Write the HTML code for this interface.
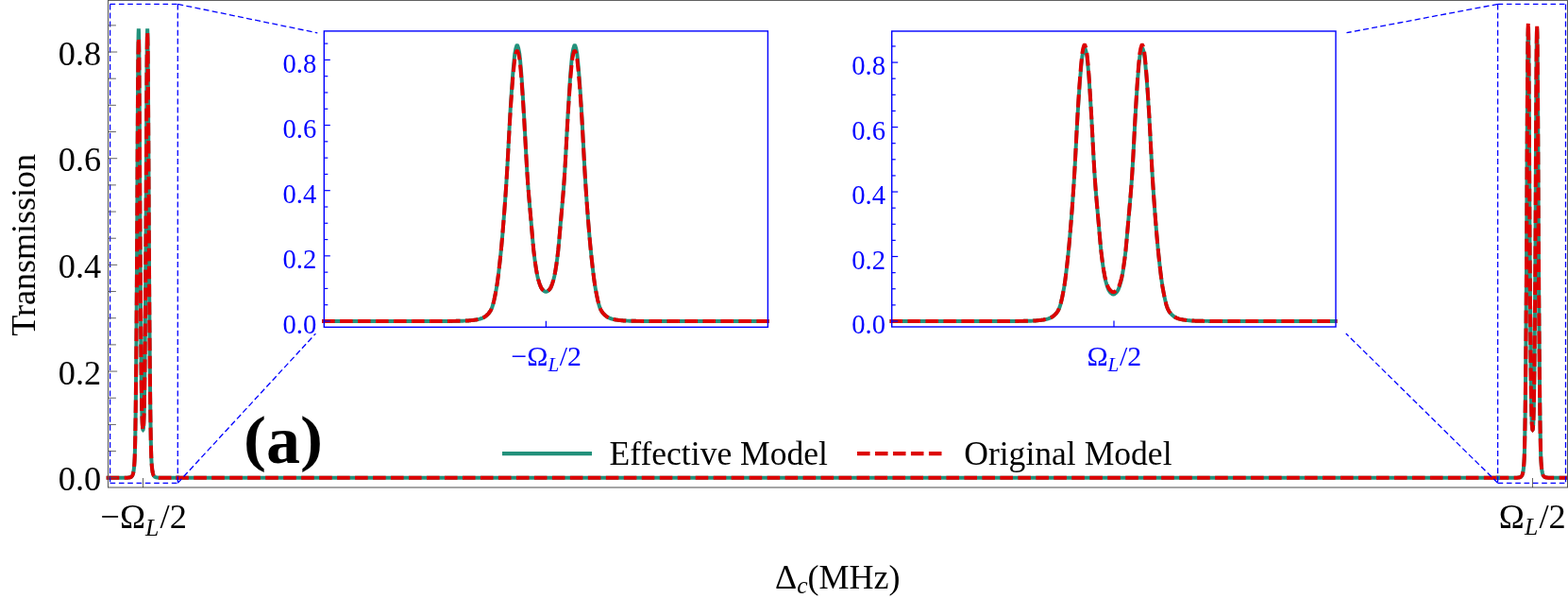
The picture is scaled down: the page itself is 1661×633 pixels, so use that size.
<!DOCTYPE html>
<html><head><meta charset="utf-8"><title>Transmission</title>
<style>
html,body{margin:0;padding:0;background:#fff;}
body{width:1661px;height:633px;overflow:hidden;}
svg{display:block;}
text{font-family:"Liberation Serif",serif;}
</style></head><body>
<svg width="1661" height="633" viewBox="0 0 1661 633">
<rect width="1661" height="633" fill="#fff"/>

<g fill="none" stroke-linejoin="miter">
<path d="M112.70,505.75 L133.12,505.75 L133.35,505.75 L133.57,505.75 L133.80,505.74 L134.03,505.73 L134.26,505.72 L134.49,505.71 L134.72,505.70 L134.95,505.69 L135.18,505.67 L135.41,505.65 L135.63,505.63 L135.86,505.61 L136.09,505.59 L136.32,505.57 L136.55,505.55 L136.78,505.52 L137.01,505.48 L137.24,505.44 L137.46,505.39 L137.69,505.34 L137.92,505.28 L138.15,505.21 L138.38,505.13 L138.61,505.04 L138.84,504.91 L139.07,504.73 L139.30,504.50 L139.52,504.24 L139.75,503.94 L139.98,503.61 L140.21,503.24 L140.44,502.78 L140.67,502.21 L140.90,501.53 L141.13,500.72 L141.36,499.77 L141.58,498.41 L141.81,496.62 L142.04,494.48 L142.27,491.90 L142.50,488.49 L142.73,483.92 L142.96,476.62 L143.19,466.41 L143.41,454.15 L143.64,439.64 L143.87,420.78 L144.10,399.00 L144.33,374.89 L144.56,346.72 L144.79,315.85 L145.02,281.63 L145.25,242.69 L145.47,196.64 L145.70,150.83 L145.93,112.27 L146.16,79.04 L146.39,52.21 L146.62,36.41 L146.85,30.39 L147.08,36.41 L147.30,52.07 L147.53,79.62 L147.76,116.29 L147.99,157.11 L148.22,203.10 L148.45,246.86 L148.68,281.32 L148.91,310.00 L149.14,337.69 L149.36,366.23 L149.59,390.82 L149.82,408.95 L150.05,423.86 L150.28,434.44 L150.51,442.24 L150.74,448.10 L150.97,451.40 L151.19,453.67 L151.42,454.95 L151.50,455.04 L151.58,454.95 L151.81,453.67 L152.03,451.40 L152.26,448.10 L152.49,442.24 L152.72,434.44 L152.95,423.86 L153.18,408.95 L153.41,390.82 L153.64,366.23 L153.86,337.69 L154.09,310.00 L154.32,281.32 L154.55,246.86 L154.78,203.10 L155.01,157.11 L155.24,116.29 L155.47,79.62 L155.70,52.07 L155.92,36.41 L156.15,30.39 L156.38,36.41 L156.61,52.21 L156.84,79.04 L157.07,112.27 L157.30,150.83 L157.53,196.64 L157.75,242.69 L157.98,281.63 L158.21,315.85 L158.44,346.72 L158.67,374.89 L158.90,399.00 L159.13,420.78 L159.36,439.64 L159.59,454.15 L159.81,466.41 L160.04,476.62 L160.27,483.92 L160.50,488.49 L160.73,491.90 L160.96,494.48 L161.19,496.62 L161.42,498.41 L161.64,499.77 L161.87,500.72 L162.10,501.53 L162.33,502.21 L162.56,502.78 L162.79,503.24 L163.02,503.61 L163.25,503.94 L163.48,504.24 L163.70,504.50 L163.93,504.73 L164.16,504.91 L164.39,505.04 L164.62,505.13 L164.85,505.21 L165.08,505.28 L165.31,505.34 L165.54,505.39 L165.76,505.44 L165.99,505.48 L166.22,505.52 L166.45,505.55 L166.68,505.57 L166.91,505.59 L167.14,505.61 L167.37,505.63 L167.59,505.65 L167.82,505.67 L168.05,505.69 L168.28,505.70 L168.51,505.71 L168.74,505.72 L168.97,505.73 L169.20,505.74 L169.43,505.75 L169.65,505.75 L169.88,505.75 L190.00,505.75" stroke="#22917b" stroke-width="4.0"/>
<path d="M112.70,505.75 L133.12,505.75 L133.35,505.75 L133.57,505.75 L133.80,505.74 L134.03,505.73 L134.26,505.72 L134.49,505.71 L134.72,505.70 L134.95,505.69 L135.18,505.67 L135.41,505.65 L135.63,505.63 L135.86,505.61 L136.09,505.59 L136.32,505.57 L136.55,505.55 L136.78,505.52 L137.01,505.48 L137.24,505.44 L137.46,505.39 L137.69,505.34 L137.92,505.28 L138.15,505.21 L138.38,505.13 L138.61,505.04 L138.84,504.91 L139.07,504.73 L139.30,504.50 L139.52,504.24 L139.75,503.94 L139.98,503.61 L140.21,503.24 L140.44,502.78 L140.67,502.21 L140.90,501.53 L141.13,500.72 L141.36,499.77 L141.58,498.41 L141.81,496.62 L142.04,494.48 L142.27,491.90 L142.50,488.49 L142.73,483.92 L142.96,476.62 L143.19,466.41 L143.41,454.15 L143.64,439.64 L143.87,420.78 L144.10,399.00 L144.33,374.89 L144.56,346.72 L144.79,315.85 L145.02,281.63 L145.25,242.69 L145.47,198.02 L145.70,154.52 L145.93,117.91 L146.16,86.35 L146.39,60.87 L146.62,45.87 L146.85,40.15 L147.08,45.87 L147.30,60.74 L147.53,86.90 L147.76,121.72 L147.99,160.48 L148.22,204.16 L148.45,246.86 L148.68,281.32 L148.91,310.00 L149.14,337.69 L149.36,366.23 L149.59,390.82 L149.82,408.95 L150.05,423.86 L150.28,434.44 L150.51,442.24 L150.74,448.10 L150.97,451.40 L151.19,453.67 L151.42,454.95 L151.50,455.04 L151.58,454.95 L151.81,453.67 L152.03,451.40 L152.26,448.10 L152.49,442.24 L152.72,434.44 L152.95,423.86 L153.18,408.95 L153.41,390.82 L153.64,366.23 L153.86,337.69 L154.09,310.00 L154.32,281.32 L154.55,246.86 L154.78,203.51 L155.01,158.43 L155.24,118.41 L155.47,82.46 L155.70,55.45 L155.92,40.10 L156.15,34.20 L156.38,40.10 L156.61,55.59 L156.84,81.90 L157.07,114.47 L157.30,152.27 L157.53,197.18 L157.75,242.69 L157.98,281.63 L158.21,315.85 L158.44,346.72 L158.67,374.89 L158.90,399.00 L159.13,420.78 L159.36,439.64 L159.59,454.15 L159.81,466.41 L160.04,476.62 L160.27,483.92 L160.50,488.49 L160.73,491.90 L160.96,494.48 L161.19,496.62 L161.42,498.41 L161.64,499.77 L161.87,500.72 L162.10,501.53 L162.33,502.21 L162.56,502.78 L162.79,503.24 L163.02,503.61 L163.25,503.94 L163.48,504.24 L163.70,504.50 L163.93,504.73 L164.16,504.91 L164.39,505.04 L164.62,505.13 L164.85,505.21 L165.08,505.28 L165.31,505.34 L165.54,505.39 L165.76,505.44 L165.99,505.48 L166.22,505.52 L166.45,505.55 L166.68,505.57 L166.91,505.59 L167.14,505.61 L167.37,505.63 L167.59,505.65 L167.82,505.67 L168.05,505.69 L168.28,505.70 L168.51,505.71 L168.74,505.72 L168.97,505.73 L169.20,505.74 L169.43,505.75 L169.65,505.75 L169.88,505.75 L190.00,505.75" stroke="#dd0000" stroke-width="4.0" stroke-dasharray="13.55 5.43"/>
<path d="M1584.70,505.75 L1605.12,505.75 L1605.35,505.75 L1605.57,505.75 L1605.80,505.74 L1606.03,505.73 L1606.26,505.72 L1606.49,505.71 L1606.72,505.70 L1606.95,505.69 L1607.18,505.67 L1607.41,505.65 L1607.63,505.63 L1607.86,505.61 L1608.09,505.59 L1608.32,505.57 L1608.55,505.55 L1608.78,505.52 L1609.01,505.48 L1609.24,505.44 L1609.46,505.39 L1609.69,505.34 L1609.92,505.28 L1610.15,505.21 L1610.38,505.13 L1610.61,505.04 L1610.84,504.91 L1611.07,504.73 L1611.30,504.50 L1611.52,504.24 L1611.75,503.94 L1611.98,503.61 L1612.21,503.24 L1612.44,502.78 L1612.67,502.21 L1612.90,501.53 L1613.13,500.72 L1613.36,499.77 L1613.58,498.41 L1613.81,496.62 L1614.04,494.48 L1614.27,491.90 L1614.50,488.49 L1614.73,483.92 L1614.96,476.62 L1615.19,466.41 L1615.41,454.15 L1615.64,439.64 L1615.87,420.78 L1616.10,399.00 L1616.33,374.89 L1616.56,346.72 L1616.79,315.85 L1617.02,281.63 L1617.25,242.69 L1617.47,196.54 L1617.70,150.56 L1617.93,111.86 L1618.16,78.51 L1618.39,51.57 L1618.62,35.72 L1618.85,29.68 L1619.08,35.72 L1619.30,51.44 L1619.53,79.09 L1619.76,115.89 L1619.99,156.86 L1620.22,203.02 L1620.45,246.86 L1620.68,281.32 L1620.91,310.00 L1621.14,337.69 L1621.36,366.23 L1621.59,390.82 L1621.82,408.95 L1622.05,423.86 L1622.28,434.44 L1622.51,442.24 L1622.74,448.10 L1622.97,451.40 L1623.19,453.67 L1623.42,454.95 L1623.50,455.04 L1623.58,454.95 L1623.81,453.67 L1624.03,451.40 L1624.26,448.10 L1624.49,442.24 L1624.72,434.44 L1624.95,423.86 L1625.18,408.95 L1625.41,390.82 L1625.64,366.23 L1625.86,337.69 L1626.09,310.00 L1626.32,281.32 L1626.55,246.86 L1626.78,203.02 L1627.01,156.86 L1627.24,115.89 L1627.47,79.09 L1627.70,51.44 L1627.92,35.72 L1628.15,29.68 L1628.38,35.72 L1628.61,51.57 L1628.84,78.51 L1629.07,111.86 L1629.30,150.56 L1629.53,196.54 L1629.75,242.69 L1629.98,281.63 L1630.21,315.85 L1630.44,346.72 L1630.67,374.89 L1630.90,399.00 L1631.13,420.78 L1631.36,439.64 L1631.59,454.15 L1631.81,466.41 L1632.04,476.62 L1632.27,483.92 L1632.50,488.49 L1632.73,491.90 L1632.96,494.48 L1633.19,496.62 L1633.42,498.41 L1633.64,499.77 L1633.87,500.72 L1634.10,501.53 L1634.33,502.21 L1634.56,502.78 L1634.79,503.24 L1635.02,503.61 L1635.25,503.94 L1635.48,504.24 L1635.70,504.50 L1635.93,504.73 L1636.16,504.91 L1636.39,505.04 L1636.62,505.13 L1636.85,505.21 L1637.08,505.28 L1637.31,505.34 L1637.54,505.39 L1637.76,505.44 L1637.99,505.48 L1638.22,505.52 L1638.45,505.55 L1638.68,505.57 L1638.91,505.59 L1639.14,505.61 L1639.37,505.63 L1639.59,505.65 L1639.82,505.67 L1640.05,505.69 L1640.28,505.70 L1640.51,505.71 L1640.74,505.72 L1640.97,505.73 L1641.20,505.74 L1641.43,505.75 L1641.65,505.75 L1641.88,505.75 L1662.00,505.75" stroke="#22917b" stroke-width="4.0"/>
<path d="M1584.70,505.75 L1605.12,505.75 L1605.35,505.75 L1605.57,505.75 L1605.80,505.74 L1606.03,505.73 L1606.26,505.72 L1606.49,505.71 L1606.72,505.70 L1606.95,505.69 L1607.18,505.67 L1607.41,505.65 L1607.63,505.63 L1607.86,505.61 L1608.09,505.59 L1608.32,505.57 L1608.55,505.55 L1608.78,505.52 L1609.01,505.48 L1609.24,505.44 L1609.46,505.39 L1609.69,505.34 L1609.92,505.28 L1610.15,505.21 L1610.38,505.13 L1610.61,505.04 L1610.84,504.91 L1611.07,504.73 L1611.30,504.50 L1611.52,504.24 L1611.75,503.94 L1611.98,503.61 L1612.21,503.24 L1612.44,502.78 L1612.67,502.21 L1612.90,501.53 L1613.13,500.72 L1613.36,499.77 L1613.58,498.41 L1613.81,496.62 L1614.04,494.48 L1614.27,491.90 L1614.50,488.49 L1614.73,483.92 L1614.96,476.62 L1615.19,466.41 L1615.41,454.15 L1615.64,439.64 L1615.87,420.78 L1616.10,399.00 L1616.33,374.89 L1616.56,346.72 L1616.79,315.85 L1617.02,281.63 L1617.25,242.69 L1617.47,195.76 L1617.70,148.49 L1617.93,108.70 L1618.16,74.41 L1618.39,46.71 L1618.62,30.41 L1618.85,24.20 L1619.08,30.41 L1619.30,46.58 L1619.53,75.01 L1619.76,112.85 L1619.99,154.97 L1620.22,202.43 L1620.45,246.86 L1620.68,281.32 L1620.91,310.00 L1621.14,337.69 L1621.36,366.23 L1621.59,390.82 L1621.82,408.95 L1622.05,423.86 L1622.28,434.44 L1622.51,442.24 L1622.74,448.10 L1622.97,451.40 L1623.19,453.67 L1623.42,454.95 L1623.50,455.04 L1623.58,454.95 L1623.81,453.67 L1624.03,451.40 L1624.26,448.10 L1624.49,442.24 L1624.72,434.44 L1624.95,423.86 L1625.18,408.95 L1625.41,390.82 L1625.64,366.23 L1625.86,337.69 L1626.09,310.00 L1626.32,281.32 L1626.55,246.86 L1626.78,202.79 L1627.01,156.12 L1627.24,114.70 L1627.47,77.49 L1627.70,49.54 L1627.92,33.64 L1628.15,27.53 L1628.38,33.64 L1628.61,49.67 L1628.84,76.91 L1629.07,110.63 L1629.30,149.75 L1629.53,196.23 L1629.75,242.69 L1629.98,281.63 L1630.21,315.85 L1630.44,346.72 L1630.67,374.89 L1630.90,399.00 L1631.13,420.78 L1631.36,439.64 L1631.59,454.15 L1631.81,466.41 L1632.04,476.62 L1632.27,483.92 L1632.50,488.49 L1632.73,491.90 L1632.96,494.48 L1633.19,496.62 L1633.42,498.41 L1633.64,499.77 L1633.87,500.72 L1634.10,501.53 L1634.33,502.21 L1634.56,502.78 L1634.79,503.24 L1635.02,503.61 L1635.25,503.94 L1635.48,504.24 L1635.70,504.50 L1635.93,504.73 L1636.16,504.91 L1636.39,505.04 L1636.62,505.13 L1636.85,505.21 L1637.08,505.28 L1637.31,505.34 L1637.54,505.39 L1637.76,505.44 L1637.99,505.48 L1638.22,505.52 L1638.45,505.55 L1638.68,505.57 L1638.91,505.59 L1639.14,505.61 L1639.37,505.63 L1639.59,505.65 L1639.82,505.67 L1640.05,505.69 L1640.28,505.70 L1640.51,505.71 L1640.74,505.72 L1640.97,505.73 L1641.20,505.74 L1641.43,505.75 L1641.65,505.75 L1641.88,505.75 L1662.00,505.75" stroke="#dd0000" stroke-width="4.0" stroke-dasharray="13.55 5.43"/>
<path d="M186.3,505.75 L1588.9,505.75" stroke="#22917b" stroke-width="4.0"/>
<path d="M186.3,505.75 L1588.9,505.75" stroke="#dd0000" stroke-width="4.0" stroke-dasharray="13.55 5.43"/>
</g>
<path d="M188.3,4.4 L188.3,511.3 M116.6,4.4 L116.6,511.3" stroke="#0000ff" stroke-width="1.3" stroke-dasharray="6.0 3.09" fill="none"/><path d="M116.6,4.4 L188.3,4.4 M116.6,511.3 L188.3,511.3" stroke="#0000ff" stroke-width="1.3" stroke-dasharray="5.6 3.72" fill="none"/>
<path d="M1658.5,4.4 L1658.5,511.3 M1586.6,4.4 L1586.6,511.3" stroke="#0000ff" stroke-width="1.3" stroke-dasharray="6.0 3.09" fill="none"/><path d="M1586.6,4.4 L1658.5,4.4 M1586.6,511.3 L1658.5,511.3" stroke="#0000ff" stroke-width="1.3" stroke-dasharray="5.6 3.72" fill="none"/>
<path d="M188.3,4.4 L336.3,34.8 M1586.6,4.4 L1426.5,34.7" stroke="#0000ff" stroke-width="1.3" stroke-dasharray="6.0 3.28" fill="none"/>
<path d="M188.3,511.3 L334.4,353.1 M1586.6,511.3 L1425.8,353" stroke="#0000ff" stroke-width="1.3" stroke-dasharray="6.1 3.14" fill="none"/>
<rect x="343.3" y="32.9" width="470.09999999999997" height="313.40000000000003" fill="#fff" stroke="none"/>
<path d="M341.10,340.00 L458.30,340.00 L459.30,340.00 L460.30,340.00 L461.30,340.00 L462.30,339.99 L463.30,339.99 L464.30,339.99 L465.30,339.98 L466.30,339.98 L467.30,339.97 L468.30,339.97 L469.30,339.96 L470.30,339.96 L471.30,339.95 L472.30,339.94 L473.30,339.94 L474.30,339.93 L475.30,339.92 L476.30,339.91 L477.30,339.90 L478.30,339.90 L479.30,339.89 L480.30,339.88 L481.30,339.86 L482.30,339.85 L483.30,339.84 L484.30,339.82 L485.30,339.80 L486.30,339.78 L487.30,339.76 L488.30,339.74 L489.30,339.71 L490.30,339.68 L491.30,339.65 L492.30,339.62 L493.30,339.59 L494.30,339.54 L495.30,339.48 L496.30,339.41 L497.30,339.33 L498.30,339.24 L499.30,339.13 L500.30,339.01 L501.30,338.89 L502.30,338.76 L503.30,338.62 L504.30,338.46 L505.30,338.28 L506.30,338.07 L507.30,337.83 L508.30,337.56 L509.30,337.25 L510.30,336.92 L511.30,336.54 L512.30,336.08 L513.30,335.49 L514.30,334.79 L515.30,333.98 L516.30,333.08 L517.30,332.07 L518.30,330.87 L519.30,329.41 L520.30,327.64 L521.30,325.34 L522.30,322.12 L523.30,318.11 L524.30,313.46 L525.30,308.33 L526.30,302.71 L527.30,295.84 L528.30,287.85 L529.30,279.08 L530.30,269.81 L531.30,259.69 L532.30,248.38 L533.30,236.28 L534.30,223.46 L535.30,209.71 L536.30,194.94 L537.30,178.56 L538.30,159.94 L539.30,140.56 L540.30,122.03 L541.30,105.81 L542.30,91.03 L543.30,77.81 L544.30,66.54 L545.30,56.82 L546.30,51.55 L547.30,48.34 L548.30,48.34 L549.30,51.55 L550.30,56.78 L551.30,66.45 L552.30,78.17 L553.30,92.78 L554.30,108.82 L555.30,125.89 L556.30,144.68 L557.30,163.61 L558.30,181.12 L559.30,195.80 L560.30,208.37 L561.30,219.87 L562.30,231.09 L563.30,242.75 L564.30,254.38 L565.30,264.92 L566.30,273.40 L567.30,280.60 L568.30,286.96 L569.30,292.24 L570.30,296.24 L571.30,299.54 L572.30,302.38 L573.30,304.62 L574.30,306.12 L575.30,307.16 L576.30,308.04 L577.30,308.65 L578.30,308.88 L579.30,308.65 L580.30,308.04 L581.30,307.16 L582.30,306.12 L583.30,304.62 L584.30,302.38 L585.30,299.54 L586.30,296.24 L587.30,292.24 L588.30,286.96 L589.30,280.60 L590.30,273.40 L591.30,264.92 L592.30,254.38 L593.30,242.75 L594.30,231.09 L595.30,219.87 L596.30,208.37 L597.30,195.80 L598.30,181.12 L599.30,163.61 L600.30,144.68 L601.30,125.89 L602.30,108.82 L603.30,92.78 L604.30,78.17 L605.30,66.45 L606.30,56.78 L607.30,51.55 L608.30,48.34 L609.30,48.34 L610.30,51.55 L611.30,56.82 L612.30,66.54 L613.30,77.81 L614.30,91.03 L615.30,105.81 L616.30,122.03 L617.30,140.56 L618.30,159.94 L619.30,178.56 L620.30,194.94 L621.30,209.71 L622.30,223.46 L623.30,236.28 L624.30,248.38 L625.30,259.69 L626.30,269.81 L627.30,279.08 L628.30,287.85 L629.30,295.84 L630.30,302.71 L631.30,308.33 L632.30,313.46 L633.30,318.11 L634.30,322.12 L635.30,325.34 L636.30,327.64 L637.30,329.41 L638.30,330.87 L639.30,332.07 L640.30,333.08 L641.30,333.98 L642.30,334.79 L643.30,335.49 L644.30,336.08 L645.30,336.54 L646.30,336.92 L647.30,337.25 L648.30,337.56 L649.30,337.83 L650.30,338.07 L651.30,338.28 L652.30,338.46 L653.30,338.62 L654.30,338.76 L655.30,338.89 L656.30,339.01 L657.30,339.13 L658.30,339.24 L659.30,339.33 L660.30,339.41 L661.30,339.48 L662.30,339.54 L663.30,339.59 L664.30,339.62 L665.30,339.65 L666.30,339.68 L667.30,339.71 L668.30,339.74 L669.30,339.76 L670.30,339.78 L671.30,339.80 L672.30,339.82 L673.30,339.84 L674.30,339.85 L675.30,339.86 L676.30,339.88 L677.30,339.89 L678.30,339.90 L679.30,339.90 L680.30,339.91 L681.30,339.92 L682.30,339.93 L683.30,339.94 L684.30,339.94 L685.30,339.95 L686.30,339.96 L687.30,339.96 L688.30,339.97 L689.30,339.97 L690.30,339.98 L691.30,339.98 L692.30,339.99 L693.30,339.99 L694.30,339.99 L695.30,340.00 L696.30,340.00 L697.30,340.00 L814.90,340.00" fill="none" stroke="#22917b" stroke-width="3.95" stroke-linejoin="round"/>
<path d="M341.10,340.00 L458.30,340.00 L459.30,340.00 L460.30,340.00 L461.30,340.00 L462.30,339.99 L463.30,339.99 L464.30,339.99 L465.30,339.98 L466.30,339.98 L467.30,339.97 L468.30,339.97 L469.30,339.96 L470.30,339.96 L471.30,339.95 L472.30,339.94 L473.30,339.94 L474.30,339.93 L475.30,339.92 L476.30,339.91 L477.30,339.90 L478.30,339.90 L479.30,339.89 L480.30,339.88 L481.30,339.86 L482.30,339.85 L483.30,339.84 L484.30,339.82 L485.30,339.80 L486.30,339.78 L487.30,339.76 L488.30,339.74 L489.30,339.71 L490.30,339.68 L491.30,339.65 L492.30,339.62 L493.30,339.59 L494.30,339.54 L495.30,339.48 L496.30,339.41 L497.30,339.33 L498.30,339.24 L499.30,339.13 L500.30,339.01 L501.30,338.89 L502.30,338.76 L503.30,338.62 L504.30,338.46 L505.30,338.28 L506.30,338.07 L507.30,337.83 L508.30,337.56 L509.30,337.25 L510.30,336.92 L511.30,336.54 L512.30,336.08 L513.30,335.49 L514.30,334.79 L515.30,333.98 L516.30,333.08 L517.30,332.07 L518.30,330.87 L519.30,329.41 L520.30,327.64 L521.30,325.34 L522.30,322.12 L523.30,318.11 L524.30,313.46 L525.30,308.33 L526.30,302.71 L527.30,295.84 L528.30,287.85 L529.30,279.08 L530.30,269.81 L531.30,259.69 L532.30,248.38 L533.30,236.28 L534.30,223.46 L535.30,209.71 L536.30,194.94 L537.30,178.56 L538.30,160.29 L539.30,141.86 L540.30,124.24 L541.30,108.81 L542.30,94.76 L543.30,82.18 L544.30,71.47 L545.30,62.22 L546.30,57.21 L547.30,54.16 L548.30,54.16 L549.30,57.21 L550.30,62.19 L551.30,71.38 L552.30,82.52 L553.30,96.42 L554.30,111.68 L555.30,127.91 L556.30,145.77 L557.30,163.78 L558.30,181.12 L559.30,195.80 L560.30,208.37 L561.30,219.87 L562.30,231.09 L563.30,242.75 L564.30,254.38 L565.30,264.92 L566.30,273.40 L567.30,280.60 L568.30,286.96 L569.30,292.24 L570.30,296.24 L571.30,299.54 L572.30,302.38 L573.30,304.62 L574.30,306.12 L575.30,307.16 L576.30,308.04 L577.30,308.65 L578.30,308.88 L579.30,308.65 L580.30,308.04 L581.30,307.16 L582.30,306.12 L583.30,304.62 L584.30,302.38 L585.30,299.54 L586.30,296.24 L587.30,292.24 L588.30,286.96 L589.30,280.60 L590.30,273.40 L591.30,264.92 L592.30,254.38 L593.30,242.75 L594.30,231.09 L595.30,219.87 L596.30,208.37 L597.30,195.80 L598.30,181.12 L599.30,163.78 L600.30,145.77 L601.30,127.91 L602.30,111.68 L603.30,96.42 L604.30,82.52 L605.30,71.38 L606.30,62.19 L607.30,57.21 L608.30,54.16 L609.30,54.16 L610.30,57.21 L611.30,62.22 L612.30,71.47 L613.30,82.18 L614.30,94.76 L615.30,108.81 L616.30,124.24 L617.30,141.86 L618.30,160.29 L619.30,178.56 L620.30,194.94 L621.30,209.71 L622.30,223.46 L623.30,236.28 L624.30,248.38 L625.30,259.69 L626.30,269.81 L627.30,279.08 L628.30,287.85 L629.30,295.84 L630.30,302.71 L631.30,308.33 L632.30,313.46 L633.30,318.11 L634.30,322.12 L635.30,325.34 L636.30,327.64 L637.30,329.41 L638.30,330.87 L639.30,332.07 L640.30,333.08 L641.30,333.98 L642.30,334.79 L643.30,335.49 L644.30,336.08 L645.30,336.54 L646.30,336.92 L647.30,337.25 L648.30,337.56 L649.30,337.83 L650.30,338.07 L651.30,338.28 L652.30,338.46 L653.30,338.62 L654.30,338.76 L655.30,338.89 L656.30,339.01 L657.30,339.13 L658.30,339.24 L659.30,339.33 L660.30,339.41 L661.30,339.48 L662.30,339.54 L663.30,339.59 L664.30,339.62 L665.30,339.65 L666.30,339.68 L667.30,339.71 L668.30,339.74 L669.30,339.76 L670.30,339.78 L671.30,339.80 L672.30,339.82 L673.30,339.84 L674.30,339.85 L675.30,339.86 L676.30,339.88 L677.30,339.89 L678.30,339.90 L679.30,339.90 L680.30,339.91 L681.30,339.92 L682.30,339.93 L683.30,339.94 L684.30,339.94 L685.30,339.95 L686.30,339.96 L687.30,339.96 L688.30,339.97 L689.30,339.97 L690.30,339.98 L691.30,339.98 L692.30,339.99 L693.30,339.99 L694.30,339.99 L695.30,340.00 L696.30,340.00 L697.30,340.00 L814.90,340.00" fill="none" stroke="#dd0000" stroke-width="3.95" stroke-dasharray="13.55 5.43" stroke-linejoin="round"/>
<rect x="343.3" y="32.9" width="470.09999999999997" height="313.40000000000003" fill="none" stroke="#0000ff" stroke-width="1.4"/>
<line x1="343.3" x2="349.8" y1="340.00" y2="340.00" stroke="#0000ff" stroke-width="1.2"/>
<text x="335.3" y="353.30" font-size="28.6" text-anchor="end" fill="#0000ff">0.0</text>
<line x1="343.3" x2="347.3" y1="322.71" y2="322.71" stroke="#0000ff" stroke-width="1.2"/>
<line x1="343.3" x2="347.3" y1="305.43" y2="305.43" stroke="#0000ff" stroke-width="1.2"/>
<line x1="343.3" x2="347.3" y1="288.14" y2="288.14" stroke="#0000ff" stroke-width="1.2"/>
<line x1="343.3" x2="349.8" y1="270.85" y2="270.85" stroke="#0000ff" stroke-width="1.2"/>
<text x="335.3" y="284.15" font-size="28.6" text-anchor="end" fill="#0000ff">0.2</text>
<line x1="343.3" x2="347.3" y1="253.56" y2="253.56" stroke="#0000ff" stroke-width="1.2"/>
<line x1="343.3" x2="347.3" y1="236.27" y2="236.27" stroke="#0000ff" stroke-width="1.2"/>
<line x1="343.3" x2="347.3" y1="218.99" y2="218.99" stroke="#0000ff" stroke-width="1.2"/>
<line x1="343.3" x2="349.8" y1="201.70" y2="201.70" stroke="#0000ff" stroke-width="1.2"/>
<text x="335.3" y="215.00" font-size="28.6" text-anchor="end" fill="#0000ff">0.4</text>
<line x1="343.3" x2="347.3" y1="184.41" y2="184.41" stroke="#0000ff" stroke-width="1.2"/>
<line x1="343.3" x2="347.3" y1="167.12" y2="167.12" stroke="#0000ff" stroke-width="1.2"/>
<line x1="343.3" x2="347.3" y1="149.84" y2="149.84" stroke="#0000ff" stroke-width="1.2"/>
<line x1="343.3" x2="349.8" y1="132.55" y2="132.55" stroke="#0000ff" stroke-width="1.2"/>
<text x="335.3" y="145.85" font-size="28.6" text-anchor="end" fill="#0000ff">0.6</text>
<line x1="343.3" x2="347.3" y1="115.26" y2="115.26" stroke="#0000ff" stroke-width="1.2"/>
<line x1="343.3" x2="347.3" y1="97.97" y2="97.97" stroke="#0000ff" stroke-width="1.2"/>
<line x1="343.3" x2="347.3" y1="80.69" y2="80.69" stroke="#0000ff" stroke-width="1.2"/>
<line x1="343.3" x2="349.8" y1="63.40" y2="63.40" stroke="#0000ff" stroke-width="1.2"/>
<text x="335.3" y="76.70" font-size="28.6" text-anchor="end" fill="#0000ff">0.8</text>
<line x1="343.3" x2="347.3" y1="46.11" y2="46.11" stroke="#0000ff" stroke-width="1.2"/>
<line x1="578.4" x2="578.4" y1="346.3" y2="339.8" stroke="#0000ff" stroke-width="1.2"/>
<text x="578.6999999999999" y="387" font-size="29.8" text-anchor="middle" fill="#0000ff">−Ω<tspan font-style="italic" font-size="21.16" dy="5.81">L</tspan><tspan dy="-5.81" dx="0.6">/2</tspan></text>
<rect x="944.7" y="33.0" width="470.29999999999995" height="313.0" fill="#fff" stroke="none"/>
<path d="M942.50,340.00 L1059.40,340.00 L1060.40,340.00 L1061.40,340.00 L1062.40,340.00 L1063.40,339.99 L1064.40,339.99 L1065.40,339.99 L1066.40,339.98 L1067.40,339.98 L1068.40,339.98 L1069.40,339.97 L1070.40,339.96 L1071.40,339.96 L1072.40,339.95 L1073.40,339.94 L1074.40,339.94 L1075.40,339.93 L1076.40,339.92 L1077.40,339.91 L1078.40,339.91 L1079.40,339.90 L1080.40,339.89 L1081.40,339.88 L1082.40,339.87 L1083.40,339.85 L1084.40,339.84 L1085.40,339.82 L1086.40,339.80 L1087.40,339.78 L1088.40,339.76 L1089.40,339.74 L1090.40,339.71 L1091.40,339.69 L1092.40,339.66 L1093.40,339.62 L1094.40,339.59 L1095.40,339.55 L1096.40,339.49 L1097.40,339.42 L1098.40,339.34 L1099.40,339.24 L1100.40,339.14 L1101.40,339.02 L1102.40,338.90 L1103.40,338.77 L1104.40,338.63 L1105.40,338.48 L1106.40,338.29 L1107.40,338.09 L1108.40,337.85 L1109.40,337.58 L1110.40,337.28 L1111.40,336.95 L1112.40,336.58 L1113.40,336.12 L1114.40,335.54 L1115.40,334.84 L1116.40,334.04 L1117.40,333.15 L1118.40,332.15 L1119.40,330.96 L1120.40,329.51 L1121.40,327.76 L1122.40,325.48 L1123.40,322.30 L1124.40,318.32 L1125.40,313.72 L1126.40,308.64 L1127.40,303.07 L1128.40,296.26 L1129.40,288.36 L1130.40,279.67 L1131.40,270.49 L1132.40,260.47 L1133.40,249.27 L1134.40,237.28 L1135.40,224.59 L1136.40,210.98 L1137.40,196.34 L1138.40,180.13 L1139.40,161.68 L1140.40,142.49 L1141.40,124.14 L1142.40,108.08 L1143.40,93.44 L1144.40,80.35 L1145.40,69.19 L1146.40,59.56 L1147.40,54.34 L1148.40,51.17 L1149.40,51.17 L1150.40,54.34 L1151.40,59.53 L1152.40,69.10 L1153.40,80.70 L1154.40,95.17 L1155.40,111.06 L1156.40,127.97 L1157.40,146.57 L1158.40,165.32 L1159.40,182.66 L1160.40,197.20 L1161.40,209.65 L1162.40,221.03 L1163.40,232.14 L1164.40,243.70 L1165.40,255.21 L1166.40,265.65 L1167.40,274.05 L1168.40,281.56 L1169.40,288.20 L1170.40,293.75 L1171.40,297.99 L1172.40,301.51 L1173.40,304.54 L1174.40,306.94 L1175.40,308.58 L1176.40,309.72 L1177.40,310.68 L1178.40,311.34 L1179.40,311.58 L1180.40,311.34 L1181.40,310.68 L1182.40,309.72 L1183.40,308.58 L1184.40,306.94 L1185.40,304.54 L1186.40,301.51 L1187.40,297.99 L1188.40,293.75 L1189.40,288.20 L1190.40,281.56 L1191.40,274.05 L1192.40,265.65 L1193.40,255.21 L1194.40,243.70 L1195.40,232.14 L1196.40,221.03 L1197.40,209.65 L1198.40,197.20 L1199.40,182.66 L1200.40,165.32 L1201.40,146.57 L1202.40,127.97 L1203.40,111.06 L1204.40,95.17 L1205.40,80.70 L1206.40,69.10 L1207.40,59.53 L1208.40,54.34 L1209.40,51.17 L1210.40,51.17 L1211.40,54.34 L1212.40,59.56 L1213.40,69.19 L1214.40,80.35 L1215.40,93.44 L1216.40,108.08 L1217.40,124.14 L1218.40,142.49 L1219.40,161.68 L1220.40,180.13 L1221.40,196.34 L1222.40,210.98 L1223.40,224.59 L1224.40,237.28 L1225.40,249.27 L1226.40,260.47 L1227.40,270.49 L1228.40,279.67 L1229.40,288.36 L1230.40,296.26 L1231.40,303.07 L1232.40,308.64 L1233.40,313.72 L1234.40,318.32 L1235.40,322.30 L1236.40,325.48 L1237.40,327.76 L1238.40,329.51 L1239.40,330.96 L1240.40,332.15 L1241.40,333.15 L1242.40,334.04 L1243.40,334.84 L1244.40,335.54 L1245.40,336.12 L1246.40,336.58 L1247.40,336.95 L1248.40,337.28 L1249.40,337.58 L1250.40,337.85 L1251.40,338.09 L1252.40,338.29 L1253.40,338.48 L1254.40,338.63 L1255.40,338.77 L1256.40,338.90 L1257.40,339.02 L1258.40,339.14 L1259.40,339.24 L1260.40,339.34 L1261.40,339.42 L1262.40,339.49 L1263.40,339.55 L1264.40,339.59 L1265.40,339.62 L1266.40,339.66 L1267.40,339.69 L1268.40,339.71 L1269.40,339.74 L1270.40,339.76 L1271.40,339.78 L1272.40,339.80 L1273.40,339.82 L1274.40,339.84 L1275.40,339.85 L1276.40,339.87 L1277.40,339.88 L1278.40,339.89 L1279.40,339.90 L1280.40,339.91 L1281.40,339.91 L1282.40,339.92 L1283.40,339.93 L1284.40,339.94 L1285.40,339.94 L1286.40,339.95 L1287.40,339.96 L1288.40,339.96 L1289.40,339.97 L1290.40,339.98 L1291.40,339.98 L1292.40,339.98 L1293.40,339.99 L1294.40,339.99 L1295.40,339.99 L1296.40,340.00 L1297.40,340.00 L1298.40,340.00 L1416.50,340.00" fill="none" stroke="#22917b" stroke-width="3.95" stroke-linejoin="round"/>
<path d="M942.50,340.00 L1059.40,340.00 L1060.40,340.00 L1061.40,340.00 L1062.40,340.00 L1063.40,339.99 L1064.40,339.99 L1065.40,339.99 L1066.40,339.98 L1067.40,339.98 L1068.40,339.98 L1069.40,339.97 L1070.40,339.96 L1071.40,339.96 L1072.40,339.95 L1073.40,339.94 L1074.40,339.94 L1075.40,339.93 L1076.40,339.92 L1077.40,339.91 L1078.40,339.91 L1079.40,339.90 L1080.40,339.89 L1081.40,339.88 L1082.40,339.87 L1083.40,339.85 L1084.40,339.84 L1085.40,339.82 L1086.40,339.80 L1087.40,339.78 L1088.40,339.76 L1089.40,339.74 L1090.40,339.71 L1091.40,339.69 L1092.40,339.66 L1093.40,339.62 L1094.40,339.59 L1095.40,339.55 L1096.40,339.49 L1097.40,339.42 L1098.40,339.34 L1099.40,339.24 L1100.40,339.14 L1101.40,339.02 L1102.40,338.90 L1103.40,338.77 L1104.40,338.63 L1105.40,338.48 L1106.40,338.29 L1107.40,338.09 L1108.40,337.85 L1109.40,337.58 L1110.40,337.28 L1111.40,336.95 L1112.40,336.58 L1113.40,336.12 L1114.40,335.54 L1115.40,334.84 L1116.40,334.04 L1117.40,333.15 L1118.40,332.15 L1119.40,330.96 L1120.40,329.51 L1121.40,327.76 L1122.40,325.48 L1123.40,322.30 L1124.40,318.32 L1125.40,313.72 L1126.40,308.64 L1127.40,303.07 L1128.40,296.26 L1129.40,288.36 L1130.40,279.67 L1131.40,270.49 L1132.40,260.47 L1133.40,249.27 L1134.40,237.28 L1135.40,224.59 L1136.40,210.98 L1137.40,196.34 L1138.40,180.13 L1139.40,161.47 L1140.40,141.72 L1141.40,122.83 L1142.40,106.29 L1143.40,91.23 L1144.40,77.75 L1145.40,66.26 L1146.40,56.35 L1147.40,50.98 L1148.40,47.71 L1149.40,47.71 L1150.40,50.98 L1151.40,56.32 L1152.40,66.17 L1153.40,78.11 L1154.40,93.01 L1155.40,109.36 L1156.40,126.77 L1157.40,145.91 L1158.40,165.22 L1159.40,182.66 L1160.40,197.20 L1161.40,209.65 L1162.40,221.03 L1163.40,232.14 L1164.40,243.70 L1165.40,255.21 L1166.40,265.65 L1167.40,274.05 L1168.40,281.17 L1169.40,287.47 L1170.40,292.70 L1171.40,296.66 L1172.40,299.93 L1173.40,302.74 L1174.40,304.96 L1175.40,306.44 L1176.40,307.47 L1177.40,308.35 L1178.40,308.96 L1179.40,309.18 L1180.40,308.96 L1181.40,308.35 L1182.40,307.47 L1183.40,306.44 L1184.40,304.96 L1185.40,302.74 L1186.40,299.93 L1187.40,296.66 L1188.40,292.70 L1189.40,287.47 L1190.40,281.17 L1191.40,274.05 L1192.40,265.65 L1193.40,255.21 L1194.40,243.70 L1195.40,232.14 L1196.40,221.03 L1197.40,209.65 L1198.40,197.20 L1199.40,182.66 L1200.40,165.22 L1201.40,145.91 L1202.40,126.77 L1203.40,109.36 L1204.40,93.01 L1205.40,78.11 L1206.40,66.17 L1207.40,56.32 L1208.40,50.98 L1209.40,47.71 L1210.40,47.71 L1211.40,50.98 L1212.40,56.35 L1213.40,66.26 L1214.40,77.75 L1215.40,91.23 L1216.40,106.29 L1217.40,122.83 L1218.40,141.72 L1219.40,161.47 L1220.40,180.13 L1221.40,196.34 L1222.40,210.98 L1223.40,224.59 L1224.40,237.28 L1225.40,249.27 L1226.40,260.47 L1227.40,270.49 L1228.40,279.67 L1229.40,288.36 L1230.40,296.26 L1231.40,303.07 L1232.40,308.64 L1233.40,313.72 L1234.40,318.32 L1235.40,322.30 L1236.40,325.48 L1237.40,327.76 L1238.40,329.51 L1239.40,330.96 L1240.40,332.15 L1241.40,333.15 L1242.40,334.04 L1243.40,334.84 L1244.40,335.54 L1245.40,336.12 L1246.40,336.58 L1247.40,336.95 L1248.40,337.28 L1249.40,337.58 L1250.40,337.85 L1251.40,338.09 L1252.40,338.29 L1253.40,338.48 L1254.40,338.63 L1255.40,338.77 L1256.40,338.90 L1257.40,339.02 L1258.40,339.14 L1259.40,339.24 L1260.40,339.34 L1261.40,339.42 L1262.40,339.49 L1263.40,339.55 L1264.40,339.59 L1265.40,339.62 L1266.40,339.66 L1267.40,339.69 L1268.40,339.71 L1269.40,339.74 L1270.40,339.76 L1271.40,339.78 L1272.40,339.80 L1273.40,339.82 L1274.40,339.84 L1275.40,339.85 L1276.40,339.87 L1277.40,339.88 L1278.40,339.89 L1279.40,339.90 L1280.40,339.91 L1281.40,339.91 L1282.40,339.92 L1283.40,339.93 L1284.40,339.94 L1285.40,339.94 L1286.40,339.95 L1287.40,339.96 L1288.40,339.96 L1289.40,339.97 L1290.40,339.98 L1291.40,339.98 L1292.40,339.98 L1293.40,339.99 L1294.40,339.99 L1295.40,339.99 L1296.40,340.00 L1297.40,340.00 L1298.40,340.00 L1416.50,340.00" fill="none" stroke="#dd0000" stroke-width="3.95" stroke-dasharray="13.55 5.43" stroke-linejoin="round"/>
<rect x="944.7" y="33.0" width="470.29999999999995" height="313.0" fill="none" stroke="#0000ff" stroke-width="1.4"/>
<line x1="944.7" x2="951.2" y1="340.00" y2="340.00" stroke="#0000ff" stroke-width="1.2"/>
<text x="938.0" y="353.30" font-size="28.6" text-anchor="end" fill="#0000ff">0.0</text>
<line x1="944.7" x2="948.7" y1="322.88" y2="322.88" stroke="#0000ff" stroke-width="1.2"/>
<line x1="944.7" x2="948.7" y1="305.76" y2="305.76" stroke="#0000ff" stroke-width="1.2"/>
<line x1="944.7" x2="948.7" y1="288.64" y2="288.64" stroke="#0000ff" stroke-width="1.2"/>
<line x1="944.7" x2="951.2" y1="271.52" y2="271.52" stroke="#0000ff" stroke-width="1.2"/>
<text x="938.0" y="284.82" font-size="28.6" text-anchor="end" fill="#0000ff">0.2</text>
<line x1="944.7" x2="948.7" y1="254.40" y2="254.40" stroke="#0000ff" stroke-width="1.2"/>
<line x1="944.7" x2="948.7" y1="237.28" y2="237.28" stroke="#0000ff" stroke-width="1.2"/>
<line x1="944.7" x2="948.7" y1="220.16" y2="220.16" stroke="#0000ff" stroke-width="1.2"/>
<line x1="944.7" x2="951.2" y1="203.04" y2="203.04" stroke="#0000ff" stroke-width="1.2"/>
<text x="938.0" y="216.34" font-size="28.6" text-anchor="end" fill="#0000ff">0.4</text>
<line x1="944.7" x2="948.7" y1="185.92" y2="185.92" stroke="#0000ff" stroke-width="1.2"/>
<line x1="944.7" x2="948.7" y1="168.80" y2="168.80" stroke="#0000ff" stroke-width="1.2"/>
<line x1="944.7" x2="948.7" y1="151.68" y2="151.68" stroke="#0000ff" stroke-width="1.2"/>
<line x1="944.7" x2="951.2" y1="134.56" y2="134.56" stroke="#0000ff" stroke-width="1.2"/>
<text x="938.0" y="147.86" font-size="28.6" text-anchor="end" fill="#0000ff">0.6</text>
<line x1="944.7" x2="948.7" y1="117.44" y2="117.44" stroke="#0000ff" stroke-width="1.2"/>
<line x1="944.7" x2="948.7" y1="100.32" y2="100.32" stroke="#0000ff" stroke-width="1.2"/>
<line x1="944.7" x2="948.7" y1="83.20" y2="83.20" stroke="#0000ff" stroke-width="1.2"/>
<line x1="944.7" x2="951.2" y1="66.08" y2="66.08" stroke="#0000ff" stroke-width="1.2"/>
<text x="938.0" y="79.38" font-size="28.6" text-anchor="end" fill="#0000ff">0.8</text>
<line x1="944.7" x2="948.7" y1="48.96" y2="48.96" stroke="#0000ff" stroke-width="1.2"/>
<line x1="1180.0" x2="1180.0" y1="346.0" y2="339.5" stroke="#0000ff" stroke-width="1.2"/>
<text x="1180.3" y="387" font-size="29.8" text-anchor="middle" fill="#0000ff">Ω<tspan font-style="italic" font-size="21.16" dy="5.81">L</tspan><tspan dy="-5.81" dx="0.6">/2</tspan></text>
<text x="258" y="489.5" font-size="72" font-weight="bold" transform="translate(0,470.4) scale(1,0.905) translate(0,-471.8)">(</text>
<text x="281.98" y="489.5" font-size="72" font-weight="bold">a</text>
<text x="317.98" y="489.5" font-size="72" font-weight="bold" transform="translate(0,470.4) scale(1,0.905) translate(0,-471.8)">)</text>
<line x1="532" x2="627" y1="480.1" y2="480.1" stroke="#22917b" stroke-width="4.1"/>
<text x="645.5" y="491.8" font-size="35.6">Effective Model</text>
<line x1="908" x2="998" y1="480.1" y2="480.1" stroke="#dd0000" stroke-width="4.1" stroke-dasharray="13.55 5.43"/>
<text x="1021.2" y="491.8" font-size="35.6">Original Model</text>
<rect x="114.5" y="0.4" width="1546.0" height="515.6" fill="none" stroke="#555" stroke-width="1.05"/>
<line x1="114.5" x2="124.2" y1="505.75" y2="505.75" stroke="#555" stroke-width="0.9"/>
<line x1="114.5" x2="122.9" y1="477.58" y2="477.58" stroke="#555" stroke-width="0.9"/>
<line x1="114.5" x2="122.9" y1="449.41" y2="449.41" stroke="#555" stroke-width="0.9"/>
<line x1="114.5" x2="122.9" y1="421.24" y2="421.24" stroke="#555" stroke-width="0.9"/>
<line x1="114.5" x2="124.2" y1="393.07" y2="393.07" stroke="#555" stroke-width="0.9"/>
<line x1="114.5" x2="122.9" y1="364.90" y2="364.90" stroke="#555" stroke-width="0.9"/>
<line x1="114.5" x2="122.9" y1="336.73" y2="336.73" stroke="#555" stroke-width="0.9"/>
<line x1="114.5" x2="122.9" y1="308.56" y2="308.56" stroke="#555" stroke-width="0.9"/>
<line x1="114.5" x2="124.2" y1="280.39" y2="280.39" stroke="#555" stroke-width="0.9"/>
<line x1="114.5" x2="122.9" y1="252.22" y2="252.22" stroke="#555" stroke-width="0.9"/>
<line x1="114.5" x2="122.9" y1="224.05" y2="224.05" stroke="#555" stroke-width="0.9"/>
<line x1="114.5" x2="122.9" y1="195.88" y2="195.88" stroke="#555" stroke-width="0.9"/>
<line x1="114.5" x2="124.2" y1="167.71" y2="167.71" stroke="#555" stroke-width="0.9"/>
<line x1="114.5" x2="122.9" y1="139.54" y2="139.54" stroke="#555" stroke-width="0.9"/>
<line x1="114.5" x2="122.9" y1="111.37" y2="111.37" stroke="#555" stroke-width="0.9"/>
<line x1="114.5" x2="122.9" y1="83.20" y2="83.20" stroke="#555" stroke-width="0.9"/>
<line x1="114.5" x2="124.2" y1="55.03" y2="55.03" stroke="#555" stroke-width="0.9"/>
<line x1="114.5" x2="122.9" y1="26.86" y2="26.86" stroke="#555" stroke-width="0.9"/>
<line x1="151.5" x2="151.5" y1="516.0" y2="506.0" stroke="#222" stroke-width="0.7"/>
<line x1="1623.5" x2="1623.5" y1="516.0" y2="506.0" stroke="#222" stroke-width="0.7"/>
<text x="107.2" y="519.40" font-size="36.3" text-anchor="end">0.0</text>
<text x="107.2" y="406.72" font-size="36.3" text-anchor="end">0.2</text>
<text x="107.2" y="294.04" font-size="36.3" text-anchor="end">0.4</text>
<text x="107.2" y="181.36" font-size="36.3" text-anchor="end">0.6</text>
<text x="107.2" y="68.68" font-size="36.3" text-anchor="end">0.8</text>
<text x="152.1" y="559.4" font-size="36.4" text-anchor="middle" fill="#000">−Ω<tspan font-style="italic" font-size="25.84" dy="7.10">L</tspan><tspan dy="-7.10" dx="1.2">/2</tspan></text>
<text x="1623.3" y="559.3" font-size="36.4" text-anchor="middle" fill="#000">Ω<tspan font-style="italic" font-size="25.84" dy="7.10">L</tspan><tspan dy="-7.10" dx="1.2">/2</tspan></text>
<text x="887.3" y="623" font-size="36" text-anchor="middle">Δ<tspan font-style="italic" font-size="25.5" dy="5">c</tspan><tspan dy="-5">(MHz)</tspan></text>
<text transform="translate(36.8,259.4) rotate(-90)" font-size="36" text-anchor="middle">Transmission</text>
</svg></body></html>
